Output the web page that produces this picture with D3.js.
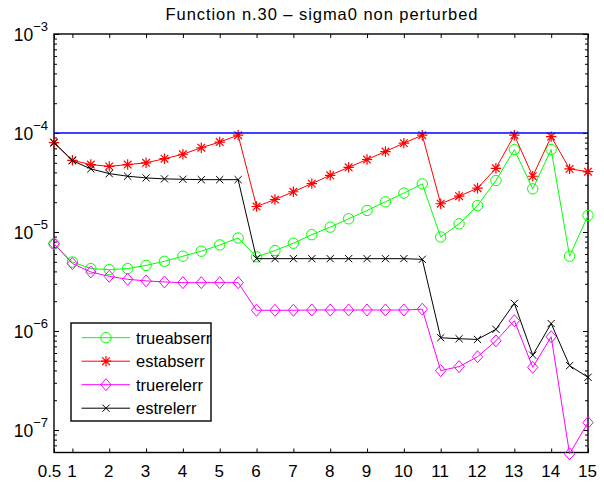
<!DOCTYPE html>
<html>
<head>
<meta charset="utf-8">
<script src="https://cdn.jsdelivr.net/npm/d3@7"></script>
<style>
  body { margin: 0; background: #fff; }
  text { font-family: "Liberation Sans", Arial, Helvetica, sans-serif; fill: #000; }
</style>
</head>
<body>
<svg id="chart" width="604" height="484"></svg>
<script>
// x positions (one per run)
const xs = [0.5, 1, 1.5, 2, 2.5, 3, 3.5, 4, 4.5, 5, 5.5, 6, 6.5, 7, 7.5,
            8, 8.5, 9, 9.5, 10, 10.5, 11, 11.5, 12, 12.5, 13, 13.5, 14, 14.5, 15];

const trueabserr = [7.6e-6, 4.98e-6, 4.27e-6, 4.17e-6, 4.27e-6, 4.6e-6, 5.06e-6, 5.7e-6, 6.4e-6, 7.4e-6, 8.7e-6,
                    5.6e-6, 6.5e-6, 7.7e-6, 9.4e-6, 1.12e-5, 1.36e-5, 1.65e-5, 2.02e-5, 2.47e-5, 3.06e-5,
                    8.9e-6, 1.21e-5, 1.85e-5, 3.31e-5, 6.8e-5, 2.73e-5, 6.8e-5, 5.7e-6, 1.47e-5];
const estabserr = [8.0e-5, 5.3e-5, 4.8e-5, 4.6e-5, 4.8e-5, 5.0e-5, 5.5e-5, 6.1e-5, 7.1e-5, 8.1e-5, 9.5e-5,
                   1.81e-5, 2.13e-5, 2.55e-5, 3.08e-5, 3.74e-5, 4.5e-5, 5.4e-5, 6.5e-5, 7.9e-5, 9.5e-5,
                   1.93e-5, 2.3e-5, 2.77e-5, 4.4e-5, 9.5e-5, 3.66e-5, 9.2e-5, 4.34e-5, 4.07e-5];
const truerelerr = [7.6e-6, 4.8e-6, 3.95e-6, 3.57e-6, 3.33e-6, 3.21e-6, 3.13e-6, 3.08e-6, 3.08e-6, 3.08e-6, 3.08e-6,
                    1.62e-6, 1.62e-6, 1.62e-6, 1.63e-6, 1.63e-6, 1.63e-6, 1.63e-6, 1.63e-6, 1.63e-6, 1.66e-6,
                    3.98e-7, 4.37e-7, 5.5e-7, 7.96e-7, 1.27e-6, 4.3e-7, 8.75e-7, 5.75e-8, 1.19e-7];
const estrelerr = [8.0e-5, 5.26e-5, 4.34e-5, 3.89e-5, 3.66e-5, 3.52e-5, 3.44e-5, 3.41e-5, 3.38e-5, 3.38e-5, 3.38e-5,
                   5.38e-6, 5.38e-6, 5.38e-6, 5.38e-6, 5.38e-6, 5.38e-6, 5.38e-6, 5.38e-6, 5.38e-6, 5.3e-6,
                   8.55e-7, 8.36e-7, 8.23e-7, 1.04e-6, 1.9e-6, 5.7e-7, 1.19e-6, 4.47e-7, 3.41e-7];
const tolerance = 1e-4;

const xTicks = [0.5, 1, 2, 3, 4, 5, 6, 7, 8, 9, 10, 11, 12, 13, 14, 15];
const yExponents = [-7, -6, -5, -4, -3];
const title = "Function n.30 \u2013 sigma0 non perturbed";

const series = [
  { name: "trueabserr", values: trueabserr, color: "#00ff00", marker: "circle" },
  { name: "estabserr", values: estabserr, color: "#ff0000", marker: "star" },
  { name: "truerelerr", values: truerelerr, color: "#ff00ff", marker: "diamond" },
  { name: "estrelerr", values: estrelerr, color: "#000000", marker: "cross" }
];

const svg = d3.select("#chart");
const margin = { left: 54, right: 16, top: 34, bottom: 31.5 };
const W = 604, H = 484;
const plotW = W - margin.left - margin.right;
const plotH = H - margin.top - margin.bottom;

const x = d3.scaleLinear().domain([0.5, 15]).range([0, plotW]);
const y = d3.scaleLog().domain([5.93e-8, 1e-3]).range([plotH, 0]);

const g = svg.append("g").attr("transform", `translate(${margin.left},${margin.top})`);

// minor log ticks
const minorTicks = [];
for (let e = -8; e < -3; e++) {
  for (let m = 2; m <= 9; m++) {
    const v = m * Math.pow(10, e);
    if (v >= y.domain()[0] && v <= y.domain()[1]) minorTicks.push(v);
  }
}
const majorTicks = yExponents.map(e => Math.pow(10, e));

function styleAxis(sel) {
  sel.select(".domain").remove();
  sel.selectAll(".tick line").attr("stroke", "#000").attr("stroke-width", 1);
}

// x axis bottom + top (inward ticks)
g.append("g").attr("transform", `translate(0,${plotH})`)
  .call(d3.axisBottom(x).tickValues(xTicks).tickSize(-4).tickFormat(d => d))
  .call(styleAxis)
  .call(a => a.selectAll(".tick text").attr("font-size", 17).attr("y", 24.5).attr("dy", null)
    .attr("x", d => d === 0.5 ? -5 : -1)
    .attr("font-family", "Liberation Sans, Arial, sans-serif"));
g.append("g")
  .call(d3.axisTop(x).tickValues(xTicks).tickSize(-4).tickFormat(""))
  .call(styleAxis);

// y axis left + right, major and minor
g.append("g").call(d3.axisLeft(y).tickValues(majorTicks).tickSize(-5).tickFormat("")).call(styleAxis);
g.append("g").call(d3.axisLeft(y).tickValues(minorTicks).tickSize(-3).tickFormat("")).call(styleAxis);
g.append("g").attr("transform", `translate(${plotW},0)`)
  .call(d3.axisRight(y).tickValues(majorTicks).tickSize(-5).tickFormat("")).call(styleAxis);
g.append("g").attr("transform", `translate(${plotW},0)`)
  .call(d3.axisRight(y).tickValues(minorTicks).tickSize(-3).tickFormat("")).call(styleAxis);

// y tick labels as 10^e
const yl = g.append("g").selectAll("text").data(yExponents).join("text")
  .attr("x", -6)
  .attr("y", d => y(Math.pow(10, d)) + 6.5)
  .attr("text-anchor", "end")
  .attr("font-size", 17.5);
yl.append("tspan").text("10");
yl.append("tspan").attr("dy", -10).attr("font-size", 13).text(d => "\u2212" + Math.abs(d));

// axes box
g.append("rect").attr("width", plotW).attr("height", plotH)
  .attr("fill", "none").attr("stroke", "#000").attr("stroke-width", 1.4);

// markers
function drawMarker(sel, type, color) {
  if (type === "circle") {
    sel.append("circle").attr("r", 5.2).attr("fill", "none").attr("stroke", color).attr("stroke-width", 1);
  } else if (type === "diamond") {
    sel.append("path").attr("d", "M0,-6L5.2,0L0,6L-5.2,0Z").attr("fill", "none").attr("stroke", color).attr("stroke-width", 1);
  } else if (type === "star") {
    sel.append("path").attr("d", "M-5.2,0H5.2M0,-5.2V5.2M-3.8,-3.8L3.8,3.8M-3.8,3.8L3.8,-3.8")
      .attr("stroke", color).attr("stroke-width", 1.2);
  } else if (type === "cross") {
    sel.append("path").attr("d", "M-3.6,-3.6L3.6,3.6M-3.6,3.6L3.6,-3.6")
      .attr("stroke", color).attr("stroke-width", 1);
  }
}

const line = d3.line().x((d, i) => x(xs[i])).y(d => y(d));

series.forEach(s => {
  g.append("path").datum(s.values).attr("d", line)
    .attr("fill", "none").attr("stroke", s.color).attr("stroke-width", 1);
  g.append("g").selectAll("g").data(s.values).join("g")
    .attr("transform", (d, i) => `translate(${x(xs[i])},${y(d)})`)
    .each(function () { drawMarker(d3.select(this), s.marker, s.color); });
});

// tolerance line
g.append("line")
  .attr("x1", 0).attr("x2", plotW)
  .attr("y1", y(tolerance)).attr("y2", y(tolerance))
  .attr("stroke", "#0000ff").attr("stroke-width", 1.4);

// title
svg.append("text")
  .attr("x", margin.left + plotW / 2 + 0.5)
  .attr("y", 19.5)
  .attr("text-anchor", "middle")
  .attr("font-size", 16.5)
  .attr("textLength", 312)
  .attr("lengthAdjust", "spacing")
  .text(title);

// legend
const legend = svg.append("g").attr("transform", "translate(71,323)");
legend.append("rect").attr("width", 140).attr("height", 98)
  .attr("fill", "#fff").attr("stroke", "#000").attr("stroke-width", 1.4);
series.forEach((s, i) => {
  const row = legend.append("g").attr("transform", `translate(0,${14.7 + i * 23.5})`);
  row.append("line").attr("x1", 10.5).attr("x2", 59).attr("stroke", s.color).attr("stroke-width", 1);
  drawMarker(row.append("g").attr("transform", "translate(35,0)"), s.marker, s.color);
  row.append("text").attr("x", 65).attr("y", 6).attr("font-size", 16.5).text(s.name);
});
</script>
</body>
</html>
